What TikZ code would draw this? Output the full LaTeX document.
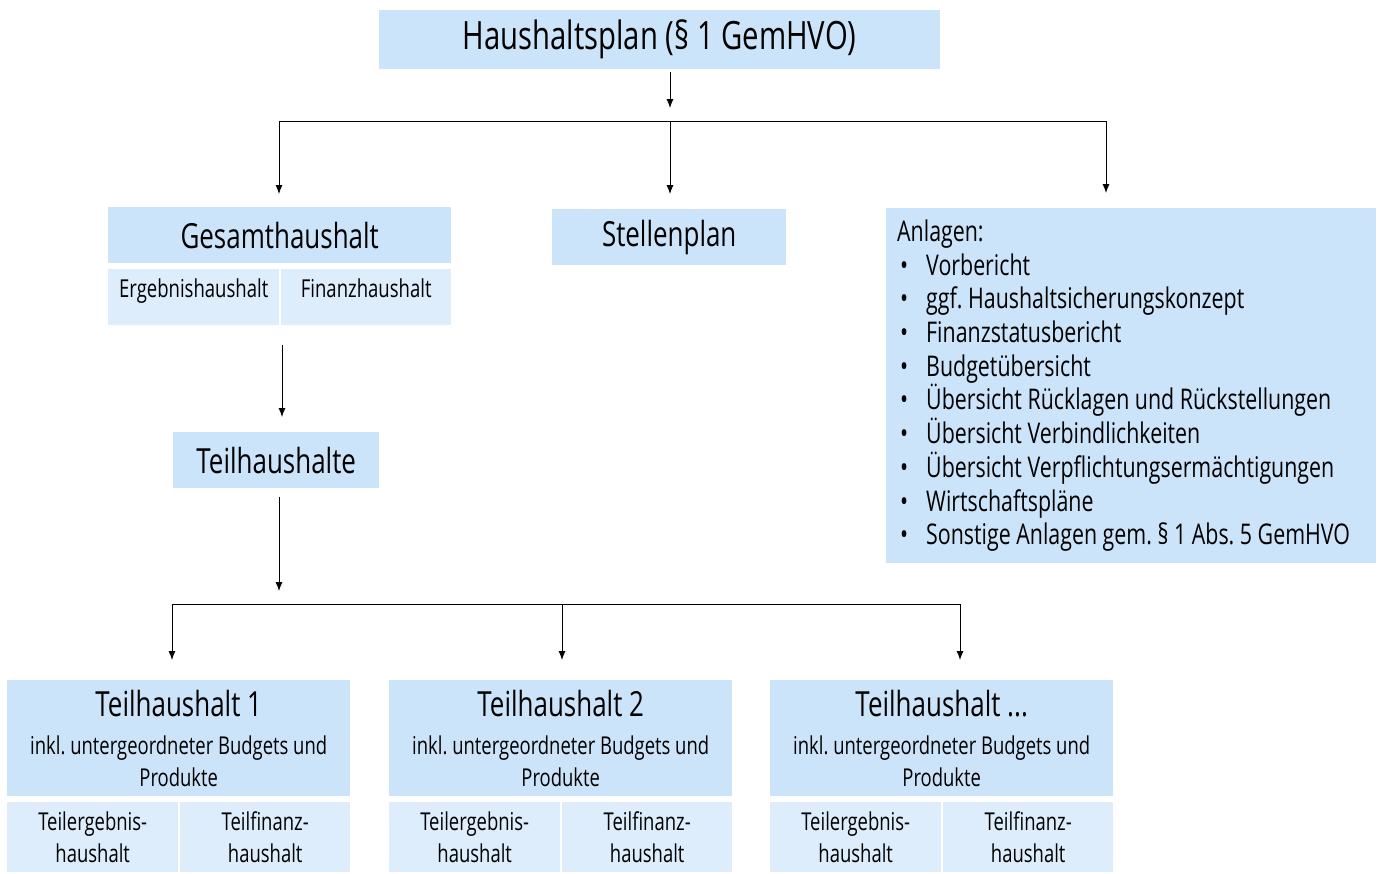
\documentclass[tikz,border=0pt]{standalone}
\usepackage{fontspec}
\setmainfont{Open Sans}[FakeStretch=0.75]
\usetikzlibrary{arrows.meta,positioning}
\frenchspacing

\definecolor{blauKopf}{HTML}{CCE4FA}
\definecolor{blauFeld}{HTML}{DDEDFC}

\newcommand{\titelschrift}{\fontsize{39}{42}\selectfont}
\newcommand{\kopfschrift}{\fontsize{34.6}{38}\selectfont}
\newcommand{\mittelschrift}{\fontsize{24.6}{32}\selectfont}
\newcommand{\kleinschrift}{\fontsize{24.7}{28}\selectfont}
\newcommand{\listenschrift}{\fontsize{28.5}{33.7}\selectfont}
\newcommand{\punkt}{\makebox[29pt][l]{\hspace{3pt}\textbullet}}
\newcommand{\weitere}{...}

\tikzset{
	kasten/.style={fill=blauKopf, inner sep=0pt, align=center, anchor=north west},
	feld/.style={fill=blauFeld, inner sep=0pt, align=center, anchor=north west},
	linie/.style={line width=0.9pt},
	pfeil/.style={linie, -{Latex[length=9pt,width=7pt]}},
}

\begin{document}
\begin{tikzpicture}[x=1pt,y=-1pt]
	\useasboundingbox (0,0) rectangle (1380,873);
	% Oben
	\node[kasten, minimum width=561, minimum height=59, font=\titelschrift] (Haushaltsplan) at (379,10) {Haushaltsplan (§ 1 GemHVO)};
	
	% Zweite Ebene
	\node[kasten, minimum width=343, minimum height=56, font=\kopfschrift] (Gesamt) at (108,207) {Gesamthaushalt};
	\node[feld, minimum width=171, minimum height=56, text depth=18pt, font=\kleinschrift] (Ergebnis) at (108,269) {Ergebnishaushalt};
	\node[feld, minimum width=170, minimum height=56, text depth=18pt, font=\kleinschrift] (Finanz) at (281,269) {Finanzhaushalt};
	\node[kasten, minimum width=234, minimum height=56, font=\kopfschrift] (Stellen) at (552,209) {Stellenplan};
	\node[kasten, minimum width=490, minimum height=355, inner xsep=11pt, align=flush left, font=\listenschrift, text width=468] (Anlagen) at (886,208)
		{Anlagen:\\
		\punkt Vorbericht\\
		\punkt ggf. Haushaltsicherungskonzept\\
		\punkt Finanzstatusbericht\\
		\punkt Budgetübersicht\\
		\punkt Übersicht Rücklagen und Rückstellungen\\
		\punkt Übersicht Verbindlichkeiten\\
		\punkt Übersicht Verpflichtungsermächtigungen\\
		\punkt Wirtschaftspläne\\
		\punkt Sonstige Anlagen gem. § 1 Abs. 5 GemHVO};
	
	% Teilhaushalte
	\node[kasten, minimum width=206, minimum height=56, font=\kopfschrift] (Teilhaushalte) at (173,432) {Teilhaushalte};
	\foreach \x/\nr [count=\i] in {7/1,389/2,770/\weitere} {
		\node[kasten, minimum width=343, minimum height=116, font=\mittelschrift] (Teil\i) at (\x,680)
			{{\kopfschrift Teilhaushalt \nr}\\[6pt]inkl. untergeordneter Budgets und\\Produkte};
		\node[feld, minimum width=171, minimum height=70, font=\mittelschrift] (TeilErg\i) at (\x,802) {Teilergebnis-\\haushalt};
		\node[feld, minimum width=170, minimum height=70, font=\mittelschrift] (TeilFin\i) at (\x+173,802) {Teilfinanz-\\haushalt};
	}
	
	% Verteiler
	\coordinate (obenL) at (279,121);
	\coordinate (obenM) at (670,121);
	\coordinate (obenR) at (1106,121);
	\coordinate (mitte) at (282,0);
	\coordinate (untenM) at (279,604);
	\coordinate (unten1) at (172,604);
	\coordinate (unten2) at (562,604);
	\coordinate (unten3) at (960,604);
	
	% Pfeile
	\draw[pfeil, shorten <=3pt, shorten >=13pt] (Haushaltsplan.south -| obenM) -- (obenM);
	\draw[linie] (obenL) -- (obenR);
	\draw[pfeil, shorten >=13pt] (obenL) -- (Gesamt.north -| obenL);
	\draw[pfeil, shorten >=15pt] (obenM) -- (Stellen.north -| obenM);
	\draw[pfeil, shorten >=15pt] (obenR) -- (Anlagen.north -| obenR);
	\draw[pfeil, shorten <=20pt, shorten >=15pt] (Ergebnis.south -| mitte) -- (Teilhaushalte.north -| mitte);
	\draw[pfeil, shorten <=9pt, shorten >=13pt] (Teilhaushalte.south -| untenM) -- (untenM);
	\draw[linie] (unten1) -- (unten3);
	\foreach \i in {1,2,3}
		\draw[pfeil, shorten >=20pt] (unten\i) -- (Teil\i.north -| unten\i);
\end{tikzpicture}
\end{document}
